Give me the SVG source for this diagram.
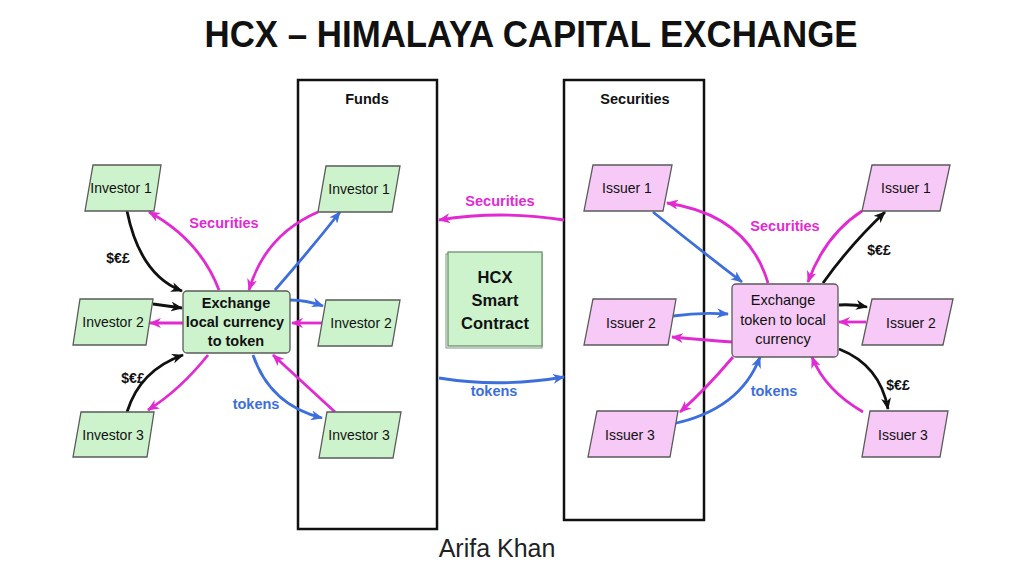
<svg xmlns="http://www.w3.org/2000/svg" width="1024" height="576" viewBox="0 0 1024 576">
<style>
.t{font-family:"Liberation Sans",Arial,sans-serif;fill:#111;text-anchor:middle}
.n{font-size:14px}
.b{font-weight:bold}
.g{fill:#cdf3cc;stroke:#5a5a5a;stroke-width:1.3}
.p{fill:#f6c9f6;stroke:#5a5a5a;stroke-width:1.3}
.lane{fill:none;stroke:#111;stroke-width:2.5}
.c{fill:none;stroke-width:2.8}
.m{stroke:#e22ad2;marker-end:url(#am)}
.bl{stroke:#3d6fdc;marker-end:url(#ab)}
.k{stroke:#111;marker-end:url(#ak)}
.lm{fill:#e22ad2;font-size:14.5px;font-weight:bold}
.lb{fill:#3d6fdc;font-size:14.5px;font-weight:bold}
.lk{fill:#111;font-size:14px;font-weight:bold}
</style>
<defs>
<marker id="am" viewBox="0 0 12 10" refX="11" refY="5" markerWidth="12" markerHeight="10" markerUnits="userSpaceOnUse" orient="auto"><path d="M0,0 L12,5 L0,10 L3.5,5 z" fill="#e22ad2"/></marker>
<marker id="ab" viewBox="0 0 12 10" refX="11" refY="5" markerWidth="12" markerHeight="10" markerUnits="userSpaceOnUse" orient="auto"><path d="M0,0 L12,5 L0,10 L3.5,5 z" fill="#3d6fdc"/></marker>
<marker id="ak" viewBox="0 0 12 10" refX="11" refY="5" markerWidth="12" markerHeight="10" markerUnits="userSpaceOnUse" orient="auto"><path d="M0,0 L12,5 L0,10 L3.5,5 z" fill="#111"/></marker>
</defs>
<rect width="1024" height="576" fill="#fff"/>
<text class="t b" x="531" y="47" font-size="36" textLength="653" lengthAdjust="spacingAndGlyphs">HCX – HIMALAYA CAPITAL EXCHANGE</text>

<g id="funds-lane"><rect class="lane" x="298" y="80" width="139" height="449"/><text class="t b" x="367" y="104" font-size="14.5">Funds</text></g>
<g id="securities-lane"><rect class="lane" x="564" y="80" width="140" height="440"/><text class="t b" x="635" y="104" font-size="14.5">Securities</text></g>

<g id="connectors">
<path class="c k" d="M127,211 Q140,275 182,291"/>
<path class="c m" d="M219,290 Q200,240 149,212"/>
<path class="c m" d="M318,212 Q265,235 249,290"/>
<path class="c bl" d="M275,290 Q310,250 340,212"/>
<path class="c k" d="M153,304 L182,308"/>
<path class="c m" d="M183,323 L150,323"/>
<path class="c bl" d="M290,300 Q306,300 323,306"/>
<path class="c m" d="M322,323 L292,323"/>
<path class="c k" d="M127,412 Q140,370 183,355"/>
<path class="c m" d="M208,355 Q180,390 148,410"/>
<path class="c bl" d="M253,355 Q270,405 322,418"/>
<path class="c m" d="M335,412 Q300,380 273,355"/>
<path class="c m" d="M564,220 Q500,210 439,220"/>
<path class="c bl" d="M439,378 Q500,388 564,377"/>
<path class="c bl" d="M653,212 Q700,250 742,282"/>
<path class="c m" d="M768,283 Q748,215 667,203"/>
<path class="c m" d="M862,211 Q825,235 808,282"/>
<path class="c k" d="M823,283 Q850,245 885,212"/>
<path class="c bl" d="M673,316 Q700,312 728,314"/>
<path class="c m" d="M732,342 Q705,340 672,337"/>
<path class="c k" d="M839,305 Q852,304 867,307"/>
<path class="c m" d="M866,322 L839,322"/>
<path class="c m" d="M733,357 Q705,390 680,412"/>
<path class="c bl" d="M672,424 Q740,410 760,357"/>
<path class="c m" d="M863,412 Q825,390 812,357"/>
<path class="c k" d="M839,349 Q880,365 888,409"/>
<text class="t lk" x="118" y="263">$€£</text>
<text class="t lm" x="224" y="228">Securities</text>
<text class="t lk" x="133" y="383">$€£</text>
<text class="t lb" x="256" y="409">tokens</text>
<text class="t lm" x="500" y="206">Securities</text>
<text class="t lb" x="494" y="396">tokens</text>
<text class="t lm" x="785" y="231">Securities</text>
<text class="t lk" x="879" y="255">$€£</text>
<text class="t lb" x="774" y="396">tokens</text>
<text class="t lk" x="898" y="390">$€£</text>
</g>

<g id="inv1-left"><polygon class="g" points="93,165 161,165 154,211 85,211"/><text class="t n" x="121" y="193">Investor 1</text></g>
<g id="inv2-left"><polygon class="g" points="80,299 153,299 146,345 73,345"/><text class="t n" x="113" y="327">Investor 2</text></g>
<g id="inv3-left"><polygon class="g" points="81,412 154,412 147,457 73,457"/><text class="t n" x="113" y="440">Investor 3</text></g>
<g id="exchange-left"><rect class="g" x="183" y="291" width="107" height="62" rx="4"/><text class="t b" font-size="14.5" x="236" y="308">Exchange</text><text class="t b" font-size="14.5" x="235" y="327">local currency</text><text class="t b" font-size="14.5" x="236" y="346">to token</text></g>
<g id="inv1-funds"><polygon class="g" points="326,166 400,166 392,212 318,212"/><text class="t n" x="359" y="194">Investor 1</text></g>
<g id="inv2-funds"><polygon class="g" points="326,300 400,300 392,346 318,346"/><text class="t n" x="361" y="328">Investor 2</text></g>
<g id="inv3-funds"><polygon class="g" points="327,412 401,412 393,458 319,458"/><text class="t n" x="359" y="440">Investor 3</text></g>
<g id="hcx"><rect x="446" y="254" width="96" height="94" fill="none" stroke="#7a9a7a" stroke-width="1"/><rect class="g" x="448" y="252" width="94" height="94" style="stroke:#6f8f6f"/><text class="t b" font-size="16.5" x="495" y="283">HCX</text><text class="t b" font-size="16.5" x="495" y="306">Smart</text><text class="t b" font-size="16.5" x="495" y="329">Contract</text></g>
<g id="iss1-sec"><polygon class="p" points="593,165 672,165 663,211 584,211"/><text class="t n" x="627" y="193">Issuer 1</text></g>
<g id="iss2-sec"><polygon class="p" points="593,299 676,299 668,345 584,345"/><text class="t n" x="631" y="328">Issuer 2</text></g>
<g id="iss3-sec"><polygon class="p" points="597,411 678,411 670,457 588,457"/><text class="t n" x="630" y="440">Issuer 3</text></g>
<g id="exchange-right"><rect class="p" x="732" y="284" width="106" height="73" rx="4"/><text class="t" font-size="14.5" x="783" y="305">Exchange</text><text class="t" font-size="14.5" x="783" y="325">token to local</text><text class="t" font-size="14.5" x="783" y="344">currency</text></g>
<g id="iss1-right"><polygon class="p" points="872,165 950,165 940,211 862,211"/><text class="t n" x="906" y="193">Issuer 1</text></g>
<g id="iss2-right"><polygon class="p" points="872,299 953,299 943,345 862,345"/><text class="t n" x="911" y="328">Issuer 2</text></g>
<g id="iss3-right"><polygon class="p" points="870,411 948,411 940,457 862,457"/><text class="t n" x="903" y="440">Issuer 3</text></g>

<text class="t" x="497" y="557" font-size="25" style="fill:#222">Arifa Khan</text>
</svg>
